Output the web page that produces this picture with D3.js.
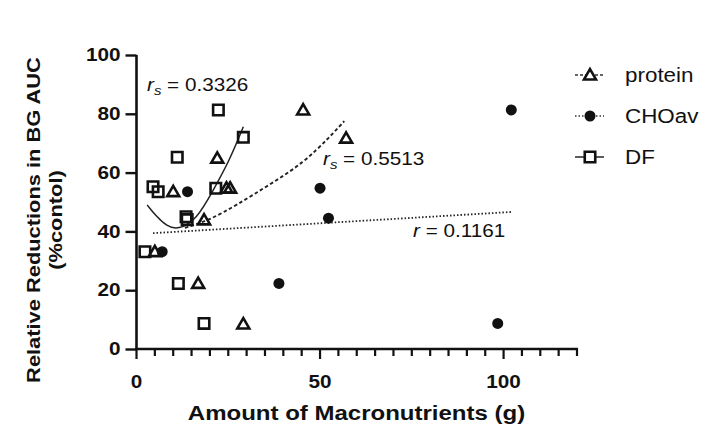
<!DOCTYPE html>
<html>
<head>
<meta charset="utf-8">
<script src="https://cdn.jsdelivr.net/npm/d3@7"></script>
<style>
  body { margin: 0; background: #fff; }
  text { font-family: "Liberation Sans", Arial, sans-serif; fill: #111; }
</style>
</head>
<body>
<div id="chart"></div>
<script>
// values: [grams, % reduction]
var proteinPts = [[45.4,81.3],[57.1,71.7],[22.0,64.9],[10.0,53.5],[24.5,54.7],[25.5,54.7],
                  [18.4,43.9],[5.0,33.1],[16.8,22.3],[29.1,8.5]];
var choPts = [[13.9,53.5],[50.0,54.7],[52.3,44.5],[7.0,33.1],[38.8,22.3],[102.1,81.3],[98.4,8.7]];
var dfPts = [[22.3,81.3],[29.1,72.0],[11.1,65.2],[4.5,55.2],[5.9,53.5],[21.6,54.7],
             [13.5,45.0],[13.8,44.0],[2.3,33.1],[11.4,22.3],[18.4,8.7]];

// fitted curves
var proteinFit = [[13.2,41.2],[20,43.9],[27.3,49],[36.4,56.0],[45.4,63.2],[52.7,72.2],[56.6,77.5]];
var choFit = [[4.5,39.4],[102,46.6]];
var dfFit = [[2.9,49],[5.5,45],[8.2,41.8],[11.3,40.5],[16.4,44],[20.9,54],[25.4,64.3],[29.1,75.6]];

var xTicks = [0,50,100];
var yTicks = [0,20,40,60,80,100];
var legendNames = ["protein","CHOav","DF"];

var W = 713, H = 439;
var stretchK = 1.15;

var svg = d3.select("#chart").append("svg")
  .attr("width", W).attr("height", H);

var x = d3.scaleLinear().domain([0,120]).range([136.5, 577]);
var y = d3.scaleLinear().domain([0,100]).range([349, 55]);

function stretch(sel, k){
  sel.each(function(){
    var l = this.getComputedTextLength();
    d3.select(this).attr("textLength", l*(k || stretchK)).attr("lengthAdjust","spacingAndGlyphs");
  });
}

// x axis, minor ticks every 5 g
var xAxis = svg.append("g");
xAxis.selectAll("line.tk").data(d3.range(0,121,5)).join("line")
  .attr("class","tk")
  .attr("x1", function(d){ return x(d); }).attr("x2", function(d){ return x(d); })
  .attr("y1", y(0)).attr("y2", function(d){ return y(0) + (d % 50 === 0 ? 10 : 7); })
  .attr("stroke","#111").attr("stroke-width",2.2);
xAxis.append("line").attr("x1", x(0) - 1.3).attr("x2", x(120) + 1)
  .attr("y1", y(0)).attr("y2", y(0)).attr("stroke","#111").attr("stroke-width",2.6);

xTicks.forEach(function(t){
  svg.append("text")
    .attr("x", x(t)).attr("y", 388)
    .attr("text-anchor","middle")
    .attr("font-size", 18).attr("font-weight","bold")
    .text(t).call(stretch);
});

var yAxis = svg.append("g")
  .attr("transform","translate(" + x(0) + ",0)")
  .call(d3.axisLeft(y).tickValues(yTicks).tickSize(11).tickPadding(5));
yAxis.selectAll(".tick line").attr("stroke-width", 2.4).attr("stroke","#111");
yAxis.select(".domain").attr("stroke-width", 2.6).attr("stroke","#111")
  .attr("d", "M0," + y(0) + "V" + y(100));
yAxis.selectAll(".tick text")
  .attr("font-size", 18).attr("font-weight","bold")
  .attr("font-family", "Liberation Sans, Arial, sans-serif").attr("fill","#111")
  .call(stretch);

// axis titles
svg.append("text")
  .attr("x", 356.5).attr("y", 420)
  .attr("text-anchor","middle").attr("font-size", 20).attr("font-weight","bold")
  .text("Amount of Macronutrients (g)").call(stretch, 1.2);

var yLab = svg.append("g").attr("transform","translate(0,220) rotate(-90)");
yLab.append("text").attr("x",0).attr("y",40)
  .attr("text-anchor","middle").attr("font-size", 19).attr("font-weight","bold")
  .text("Relative Reductions in BG AUC").call(stretch);
yLab.append("text").attr("x",0).attr("y",62)
  .attr("text-anchor","middle").attr("font-size", 19).attr("font-weight","bold")
  .text("(%contol)").call(stretch);

// fit lines
var line = d3.line().x(function(d){ return x(d[0]); }).y(function(d){ return y(d[1]); })
  .curve(d3.curveLinear);

svg.append("path").datum(choFit).attr("d", line)
  .attr("fill","none").attr("stroke","#222").attr("stroke-width",1.8)
  .attr("stroke-dasharray","1.5,2");
svg.append("path").datum(proteinFit).attr("d", line.curve(d3.curveBasis))
  .attr("fill","none").attr("stroke","#222").attr("stroke-width",1.9)
  .attr("stroke-dasharray","3.5,2.5");
svg.append("path").datum(dfFit).attr("d", line.curve(d3.curveBasis))
  .attr("fill","none").attr("stroke","#222").attr("stroke-width",1.5);

// markers
var triangle = d3.symbol().type(d3.symbolTriangle).size(62);
var square = d3.symbol().type(d3.symbolSquare).size(110);

svg.append("g").selectAll("path").data(dfPts).join("path")
  .attr("d", square)
  .attr("transform", function(d){ return "translate(" + x(d[0]) + "," + y(d[1]) + ")"; })
  .attr("fill","none").attr("stroke","#111").attr("stroke-width",2.6);

svg.append("g").selectAll("path").data(proteinPts).join("path")
  .attr("d", triangle)
  .attr("transform", function(d){ return "translate(" + x(d[0]) + "," + (y(d[1])+1) + ")"; })
  .attr("fill","none").attr("stroke","#111").attr("stroke-width",2.6)
  .attr("stroke-linejoin","miter");

svg.append("g").selectAll("circle").data(choPts).join("circle")
  .attr("cx", function(d){ return x(d[0]); })
  .attr("cy", function(d){ return y(d[1]); })
  .attr("r", 5.5).attr("fill","#111");

// correlation notes
function note(px, py, sym, sub, val){
  var g = svg.append("g").attr("transform","translate(" + px + "," + py + ") scale(" + stretchK + ",1)");
  var t = g.append("text").attr("font-size", 18);
  t.append("tspan").attr("font-style","italic").text(sym);
  if (sub) t.append("tspan").attr("font-style","italic").attr("font-size", 13).attr("dy", 4).text(sub);
  t.append("tspan").attr("dy", sub ? -4 : 0).text(" = " + val);
}
note(147, 91, "r", "s", "0.3326");
note(323, 165, "r", "s", "0.5513");
note(413, 237, "r", null, "0.1161");

// legend
var legendY = [75, 116, 157];
var legendDash = ["3,2", "1.5,2", null];
legendNames.forEach(function(name, i){
  var g = svg.append("g").attr("transform","translate(590," + legendY[i] + ")");
  g.append("line").attr("x1",-15).attr("x2",14)
    .attr("stroke","#333").attr("stroke-width", i === 2 ? 1.6 : 1.4)
    .attr("stroke-dasharray", legendDash[i]);
  if (i === 0) g.append("path").attr("d", triangle).attr("transform","translate(0,1)")
    .attr("fill","#fff").attr("stroke","#111").attr("stroke-width",2.6);
  if (i === 1) g.append("circle").attr("r",5.5).attr("fill","#111");
  if (i === 2) g.append("path").attr("d", square).attr("fill","#fff")
    .attr("stroke","#111").attr("stroke-width",2.6);
  g.append("text").attr("x", 35).attr("y", 7).attr("font-size", 20)
    .text(name).call(stretch, 1.12);
});
</script>
</body>
</html>
